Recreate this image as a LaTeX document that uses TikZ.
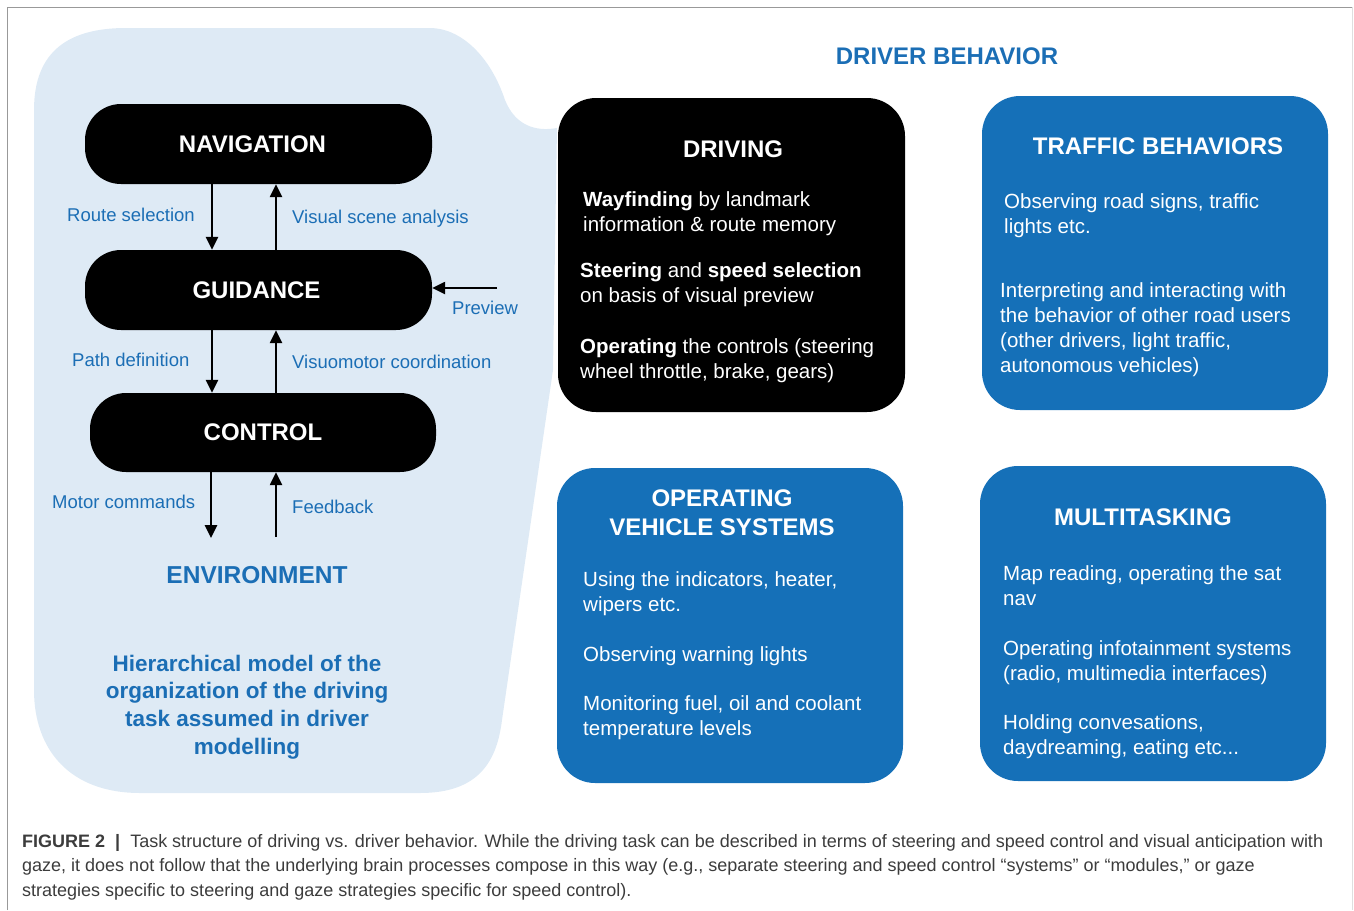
\documentclass[tikz,border=0pt]{standalone}
\usepackage{fontspec}
\setmainfont{Liberation Sans}
\usetikzlibrary{arrows.meta,positioning}
\definecolor{blobblue}{HTML}{DEEAF5}
\definecolor{boxblue}{HTML}{1570B8}
\definecolor{textblue}{HTML}{1B6EB5}
\definecolor{capgrey}{HTML}{3C3C3C}

\begin{document}
\begin{tikzpicture}[x=1pt,y=-1pt,
    level/.style={fill=black,text=white,rounded corners=36pt,minimum width=347pt,minimum height=80pt,font=\fontsize{24}{29}\selectfont\bfseries},
    bigbox/.style={rounded corners=38pt,minimum width=346pt,minimum height=315pt},
    hdr/.style={text=white,align=center,inner sep=0pt,font=\fontsize{24}{29}\selectfont\bfseries},
    body/.style={text=white,align=left,anchor=north west,inner sep=0pt,font=\fontsize{20.5}{25}\selectfont},
    lbl/.style={text=textblue,anchor=base west,inner sep=0pt,font=\fontsize{18.5}{22}\selectfont},
    arr/.style={-{Triangle[length=13pt,width=12pt]},line width=2.4pt}]
    \useasboundingbox (0,0) rectangle (1354,910);
    \draw[gray!80] (7,910) -- (7,7) -- (1352,7);
    \draw[gray!25] (1352,7) -- (1352,910);

    % hierarchical model
    \fill[blobblue] (34,110) .. controls (34,50) and (70,28) .. (126,28) -- (430,28)
        .. controls (460,28) and (490,55) .. (505,100) .. controls (515,125) and (535,132) .. (557,128)
        -- (553,370) -- (502,720) .. controls (497,760) and (480,793) .. (420,793) -- (140,793)
        .. controls (70,793) and (34,750) .. (34,690) -- cycle;

    \node[level] (nav) at (258.5,144) {NAVIGATION\hspace*{12pt}};
    \node[level] (guid) at (258.5,290) {GUIDANCE\hspace*{4pt}};
    \node[level,minimum width=346pt,minimum height=79pt] (ctrl) at (263,432.5) {CONTROL};
    \node[text=textblue,inner sep=0pt,font=\fontsize{24.5}{29}\selectfont\bfseries] (env) at (257,575) {ENVIRONMENT};

    \draw[arr] ([xshift=-46.5pt]nav.south) -- ([xshift=-46.5pt]nav.south |- guid.north);
    \draw[arr] ([xshift=17.5pt]guid.north) -- ([xshift=17.5pt]guid.north |- nav.south);
    \draw[arr] ([xshift=-46.5pt]guid.south) -- ([xshift=-46.5pt]guid.south |- ctrl.north);
    \draw[arr] ([xshift=13pt]ctrl.north) -- ([xshift=13pt]ctrl.north |- guid.south);
    \draw[arr,shorten >=28pt] ([xshift=-52pt]ctrl.south) -- ([xshift=-52pt]ctrl.south |- env.north);
    \draw[arr,shorten <=29pt] ([xshift=13pt]ctrl.south |- env.north) -- ([xshift=13pt]ctrl.south);
    \coordinate (prev) at (497,288);
    \draw[arr] (prev) -- (prev -| guid.east);

    \node[lbl] (label1) at (67,221) {Route selection};
    \node[lbl] (label2) at (292,223) {Visual scene analysis};
    \node[lbl] (label3) at (452,314) {Preview};
    \node[lbl] (label4) at (72,366) {Path definition};
    \node[lbl] (label5) at (292,368) {Visuomotor coordination};
    \node[lbl] (label6) at (52,508) {Motor commands};
    \node[lbl] (label7) at (292,513) {Feedback};

    \node[text=textblue,align=center,font=\fontsize{22.5}{27.7}\selectfont\bfseries] (model) at (247,707)
        {Hierarchical model of the\\organization of the driving\\task assumed in driver\\modelling};

    % driver behavior
    \node[text=textblue,font=\fontsize{24}{29}\selectfont\bfseries] (behav) at (947,56) {DRIVER BEHAVIOR};

    \node[bigbox,fill=black,minimum width=347pt,minimum height=314pt] (driving) at (731.5,255) {};
    \node[bigbox,fill=boxblue,minimum height=314pt] (traffic) at (1155,253) {};
    \node[bigbox,fill=boxblue] (vehicle) at (730,625.5) {};
    \node[bigbox,fill=boxblue] (multi) at (1153,623.5) {};

    \node[hdr] (head1) at (733,149) {DRIVING};
    \node[hdr] (head2) at (1158,146) {TRAFFIC BEHAVIORS};
    \node[hdr] (head3) at (722,512.5) {OPERATING\\VEHICLE SYSTEMS};
    \node[hdr] (head4) at (1143,517) {MULTITASKING};

    \node[body] (text11) at (583,191) {\textbf{Wayfinding} by landmark\\information \& route memory};
    \node[body] (text12) at (580,262) {\textbf{Steering} and \textbf{speed selection}\\on basis of visual preview};
    \node[body] (text13) at (580,338) {\textbf{Operating} the controls (steering\\wheel throttle, brake, gears)};

    \node[body] (text21) at (1004,193) {Observing road signs, traffic\\lights etc.};
    \node[body] (text22) at (1000,282) {Interpreting and interacting with\\the behavior of other road users\\(other drivers, light traffic,\\autonomous vehicles)};

    \node[body] (text31) at (583,571) {Using the indicators, heater,\\wipers etc.};
    \node[body] (text32) at (583,646) {Observing warning lights};
    \node[body] (text33) at (583,695) {Monitoring fuel, oil and coolant\\temperature levels};

    \node[body] (text41) at (1003,565) {Map reading, operating the sat\\nav};
    \node[body] (text42) at (1003,640) {Operating infotainment systems\\(radio, multimedia interfaces)};
    \node[body] (text43) at (1003,714) {Holding convesations,\\daydreaming, eating etc...};

    % caption
    \node[text=capgrey,align=left,anchor=north west,inner sep=0pt,font=\fontsize{18}{24.5}\selectfont] (caption) at (22,834)
        {\textbf{FIGURE 2}\ \ \textbf{|}\ \ Task structure of driving vs. driver behavior. While the driving task can be described in terms of steering and speed control and visual anticipation with\\
        gaze, it does not follow that the underlying brain processes compose in this way (e.g., separate steering and speed control “systems” or “modules,” or gaze\\
        strategies specific to steering and gaze strategies specific for speed control).};
\end{tikzpicture}
\end{document}
